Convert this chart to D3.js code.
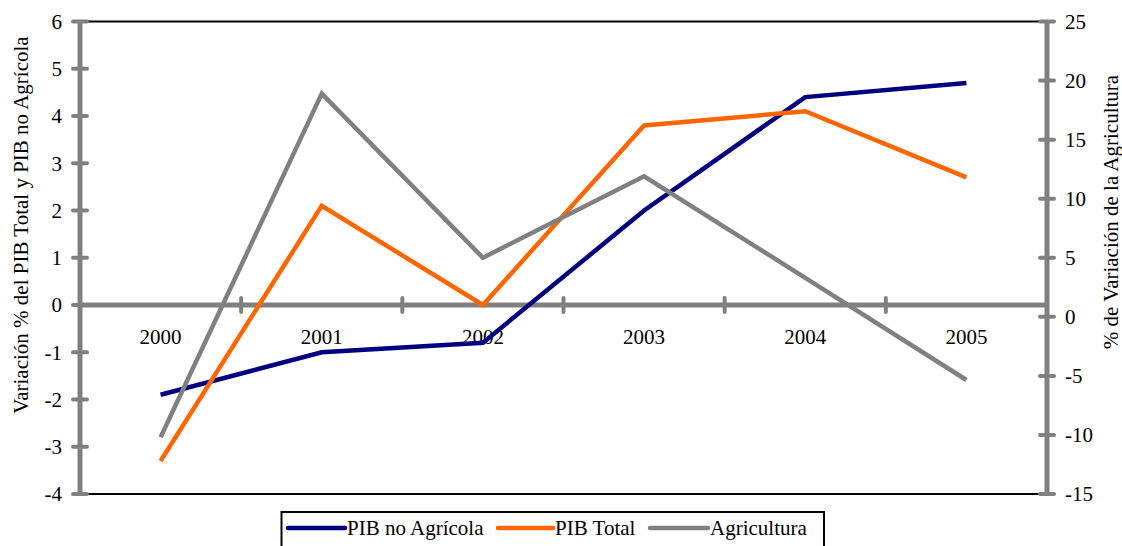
<!DOCTYPE html>
<html><head><meta charset="utf-8">
<script src="https://cdn.jsdelivr.net/npm/d3@7"></script>
<style>body{margin:0;background:#fff;}</style>
</head><body>
<svg id="c" width="1122" height="546" font-family="'Liberation Serif', 'Times New Roman', 'DejaVu Serif', serif"></svg>
<script>
const categories = ["2000","2001","2002","2003","2004","2005"];
const pibNoAgricola = [-1.9, -1.0, -0.8, 2.0, 4.4, 4.7];
const pibTotal = [-3.3, 2.1, 0.0, 3.8, 4.1, 2.7];
const agricultura = [-10.2, 18.9, 5.0, 11.9, 3.3, -5.35];
const leftTicks = [-4,-3,-2,-1,0,1,2,3,4,5,6];
const rightTicks = [-15,-10,-5,0,5,10,15,20,25];
const seriesNames = ["PIB no Agrícola","PIB Total","Agricultura"];
const seriesColors = ["#000080","#FF6600","#808080"];

const FF = "'Liberation Serif', 'Times New Roman', 'DejaVu Serif', serif";
const FS = 21;
const svg = d3.select("#c");
const L = 80, R = 1047, T = 21.5, B = 494;
const x = d3.scaleBand().domain(categories).range([L, R]).paddingInner(0).paddingOuter(0);
const xc = d => x(d) + x.bandwidth()/2;
const yL = d3.scaleLinear().domain([-4, 6]).range([B, T]);
const yR = d3.scaleLinear().domain([-15, 25]).range([B, T]);
const grey = "#808080";

svg.append("line").attr("x1", L).attr("x2", R).attr("y1", T).attr("y2", T).attr("stroke","#000").attr("stroke-width",2);
svg.append("line").attr("x1", L).attr("x2", R).attr("y1", B).attr("y2", B).attr("stroke","#000").attr("stroke-width",2);

const gl = svg.append("g").attr("transform", `translate(${L},0)`);
gl.append("line").attr("y1", T).attr("y2", B).attr("stroke", grey).attr("stroke-width",5);
gl.selectAll("line.t").data(leftTicks).join("line").attr("class","t")
  .attr("x1",-7).attr("x2",7).attr("y1",d=>yL(d)).attr("y2",d=>yL(d))
  .attr("stroke",grey).attr("stroke-width",4).attr("stroke-linecap","round");
gl.selectAll("text").data(leftTicks).join("text")
  .attr("x",-18).attr("y",d=>yL(d)).attr("dy","0.35em").attr("text-anchor","end")
  .attr("font-family",FF).attr("font-size",FS).text(d=>d);

const gr = svg.append("g").attr("transform", `translate(${R},0)`);
gr.append("line").attr("y1", T).attr("y2", B).attr("stroke", grey).attr("stroke-width",5);
gr.selectAll("line.t").data(rightTicks).join("line").attr("class","t")
  .attr("x1",-7).attr("x2",7).attr("y1",d=>yR(d)).attr("y2",d=>yR(d))
  .attr("stroke",grey).attr("stroke-width",4).attr("stroke-linecap","round");
gr.selectAll("text").data(rightTicks).join("text")
  .attr("x",18).attr("y",d=>yR(d)).attr("dy","0.35em").attr("text-anchor","start")
  .attr("font-family",FF).attr("font-size",FS).text(d=>d);

const y0 = yL(0);
svg.append("line").attr("x1",L).attr("x2",R).attr("y1",y0).attr("y2",y0).attr("stroke",grey).attr("stroke-width",5);
const bounds = categories.slice(1).map(c => x(c));
svg.selectAll("line.ct").data(bounds).join("line").attr("class","ct")
  .attr("x1",d=>d).attr("x2",d=>d).attr("y1",y0-7).attr("y2",y0+7)
  .attr("stroke",grey).attr("stroke-width",4).attr("stroke-linecap","round");
svg.selectAll("text.cl").data(categories).join("text").attr("class","cl")
  .attr("x",d=>xc(d)).attr("y",y0+39).attr("text-anchor","middle")
  .attr("font-family",FF).attr("font-size",FS).text(d=>d);

svg.append("text").attr("transform",`translate(28,225) rotate(-90)`)
  .attr("text-anchor","middle").attr("font-family",FF).attr("font-size",FS).text("Variación % del PIB Total y PIB no Agrícola");
svg.append("text").attr("transform",`translate(1118,212) rotate(-90)`)
  .attr("text-anchor","middle").attr("font-family",FF).attr("font-size",FS).text("% de Variación de la Agricultura");

const mk = (vals, ys) => d3.line().x((d,i)=>xc(categories[i])).y(d=>ys(d))(vals);
[[pibNoAgricola,yL,0],[pibTotal,yL,1],[agricultura,yR,2]].forEach(([v,s,i])=>{
  svg.append("path").attr("d", mk(v,s)).attr("fill","none").attr("stroke",seriesColors[i])
    .attr("stroke-width",4.5).attr("stroke-linejoin","miter");
});

const lg = svg.append("g");
lg.append("rect").attr("x",281.5).attr("y",512).attr("width",542.5).attr("height",45).attr("fill","#fff").attr("stroke","#000").attr("stroke-width",2);
const legX = [288, 498, 650];
const legW = [57, 55, 58];
seriesNames.forEach((n,i)=>{
  lg.append("line").attr("x1",legX[i]).attr("x2",legX[i]+legW[i]).attr("y1",528).attr("y2",528)
    .attr("stroke",seriesColors[i]).attr("stroke-width",4.5).attr("stroke-linecap","round");
  lg.append("text").attr("x",legX[i]+legW[i]+2).attr("y",528).attr("dy","0.35em")
    .attr("font-family",FF).attr("font-size",FS).text(n);
});
</script>
</body></html>
